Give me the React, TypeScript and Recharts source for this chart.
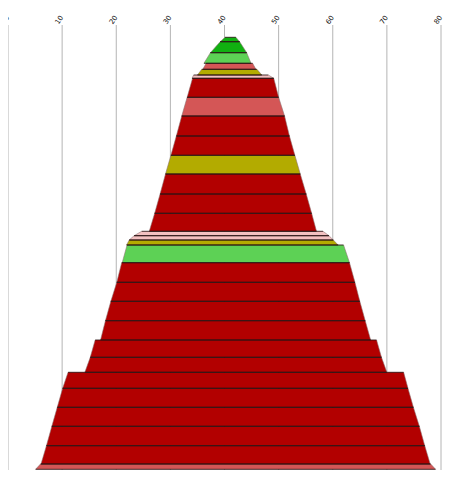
import React from 'react';
import { ComposedChart, Area, XAxis, YAxis, CartesianGrid, ReferenceLine } from 'recharts';

// x axis ticks
const xTicks = [0, 10, 20, 30, 40, 50, 60, 70, 80];

// band boundaries (depth, top of plot = 0), 31 edges for 30 bands
const bandEdges = [
  12.3, 16.7, 27.7, 38.3, 44.3, 50, 53.3, 72.3, 91, 111, 130.3, 149, 169, 188.3, 206.3,
  210.7, 215, 220, 237.7, 257.3, 276.3, 295.7, 315, 332.3, 347.3, 363.3, 382.3, 401.3,
  420.7, 439, 444.3,
];

// extents of each band at its top and bottom edge
const topLeft = [
  40.1, 39.2, 37.4, 36.6, 35.8, 34.3, 34.1, 33.1, 32.1, 31.1, 30.1, 29.1, 28.1, 27.1, 24.7,
  23.3, 22.4, 22.0, 21.0, 20.1, 19.0, 18.0, 16.1, 15.2, 11.1, 10.1, 9.1, 8.1, 7.1, 6.0,
];
const topRight = [
  42.1, 42.8, 44.1, 45.2, 46.0, 48.1, 49.1, 50.0, 51.1, 52.0, 53.0, 54.0, 55.1, 56.1, 58.2,
  59.3, 60.1, 62.0, 63.1, 64.1, 65.0, 66.0, 68.1, 69.0, 73.1, 73.9, 74.9, 76.0, 77.0, 78.1,
];
const bottomLeft = [
  39.2, 37.4, 36.2, 36.0, 35.0, 34.0, 33.1, 32.1, 31.1, 30.1, 29.1, 28.1, 27.1, 26.1, 23.3,
  22.4, 21.9, 21.1, 20.1, 19.0, 18.0, 17.1, 15.2, 14.2, 10.1, 9.1, 8.1, 7.1, 6.1, 5.1,
];
const bottomRight = [
  42.8, 44.1, 44.9, 45.8, 46.9, 49.1, 50.0, 51.1, 52.0, 53.0, 54.0, 55.1, 56.1, 57.0, 59.3,
  60.1, 61.0, 63.1, 64.1, 65.0, 66.0, 67.0, 69.0, 70.0, 73.9, 74.9, 76.0, 77.0, 78.0, 79.0,
];

// category of each band
const bandClass = [
  'G', 'G', 'L', 'M', 'O', 'P', 'R', 'M', 'R', 'R', 'O', 'R', 'R', 'R', 'P',
  'P', 'O', 'L', 'R', 'R', 'R', 'R', 'R', 'R', 'R', 'R', 'R', 'R', 'R', 'M',
];

const palette: Record<string, string> = {
  R: '#b20000',
  M: '#d45656',
  P: '#f3c1c1',
  O: '#b3ab00',
  L: '#5dd155',
  G: '#11b011',
};

const rows: any[] = [];
bandClass.forEach((_, i) => {
  rows.push({ depth: bandEdges[i], ['b' + i]: [topLeft[i], topRight[i]] });
  rows.push({ depth: bandEdges[i + 1], ['b' + i]: [bottomLeft[i], bottomRight[i]] });
});

const renderTick = (props: any) => {
  const { x, y, payload, index } = props;
  const tx = x + 1.5;
  const ty = y + 0.5;
  return (
    <text
      key={'tick-' + index}
      x={tx}
      y={ty}
      transform={`rotate(-55 ${tx} ${ty})`}
      textAnchor="end"
      fontSize={7}
      fontFamily="DejaVu Sans, sans-serif"
      fill="#111"
    >
      {String(payload.value)}
    </text>
  );
};

const edgeStroke = '#2a1414';
const sideStroke = '#8a7070';

export default function App() {
  return (
    <div>
      <style>{`.recharts-surface { overflow: visible; } .recharts-wrapper { overflow: visible; }`}</style>
      <ComposedChart
        width={441}
        height={462}
        layout="vertical"
        data={rows}
        margin={{ top: 0, right: 8, bottom: 0, left: 0 }}
      >
        <CartesianGrid horizontal={false} stroke="#b4b4b4" />
        <XAxis
          type="number"
          orientation="top"
          domain={[0, 80]}
          ticks={xTicks}
          height={17}
          axisLine={false}
          tickLine={false}
          tick={renderTick}
          interval={0}
        />
        <YAxis type="number" dataKey="depth" domain={[0, 445]} hide width={0} />
        {bandClass.map((c, i) => (
          <Area
            key={'a' + i}
            dataKey={'b' + i}
            type="linear"
            fill={palette[c]}
            fillOpacity={1}
            stroke="none"
            isAnimationActive={false}
            dot={false}
            activeDot={false}
          />
        ))}
        {bandClass.map((_, i) => (
          <ReferenceLine
            key={'l' + i}
            segment={[
              { x: topLeft[i], y: bandEdges[i] },
              { x: bottomLeft[i], y: bandEdges[i + 1] },
            ]}
            stroke={sideStroke}
            strokeWidth={0.8}
            strokeOpacity={0.7}
          />
        ))}
        {bandClass.map((_, i) => (
          <ReferenceLine
            key={'r' + i}
            segment={[
              { x: topRight[i], y: bandEdges[i] },
              { x: bottomRight[i], y: bandEdges[i + 1] },
            ]}
            stroke={sideStroke}
            strokeWidth={0.8}
            strokeOpacity={0.7}
          />
        ))}
        {bandClass.map((_, i) => (
          <ReferenceLine
            key={'t' + i}
            segment={[
              { x: topLeft[i], y: bandEdges[i] },
              { x: topRight[i], y: bandEdges[i] },
            ]}
            stroke={edgeStroke}
            strokeWidth={1}
            strokeOpacity={0.85}
          />
        ))}
        {bandClass.map((_, i) => (
          <ReferenceLine
            key={'b' + i}
            segment={[
              { x: bottomLeft[i], y: bandEdges[i + 1] },
              { x: bottomRight[i], y: bandEdges[i + 1] },
            ]}
            stroke={edgeStroke}
            strokeWidth={1}
            strokeOpacity={0.85}
          />
        ))}
      </ComposedChart>
    </div>
  );
}
